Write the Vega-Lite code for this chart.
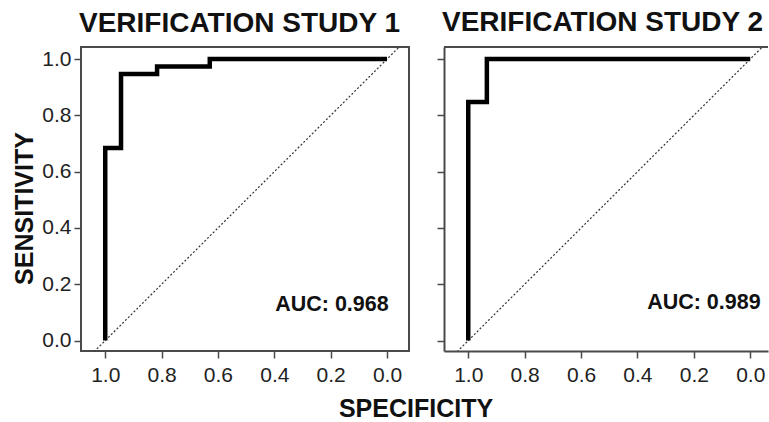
{
  "$schema": "https://vega.github.io/schema/vega-lite/v6.json",
  "padding": {"left": 11, "top": 9, "right": 0, "bottom": 0},
  "background": "white",
  "config": {
    "font": "Liberation Sans",
    "view": {"stroke": "#4a4a4a", "strokeWidth": 2},
    "axis": {
      "domain": false, "grid": false,
      "tickColor": "#4a4a4a", "tickWidth": 1.5, "tickSize": 7,
      "labelFont": "Liberation Sans", "labelFontSize": 21, "labelColor": "#222222",
      "labelFlush": false, "labelOverlap": false,
      "titleFont": "Liberation Sans", "titleFontWeight": "bold", "titleColor": "#111111"
    },
    "axisX": {"labelPadding": 6},
    "axisY": {"labelPadding": 3},
    "title": {"font": "Liberation Sans", "fontSize": 28, "fontWeight": "bold", "color": "#111111", "anchor": "start", "frame": "group", "baseline": "alphabetic", "offset": 9, "dx": -2}
  },
  "datasets": {
    "roc1": [
      {"step": 1, "spec": 1.0, "sens": 0.0},
      {"step": 2, "spec": 1.0, "sens": 0.684},
      {"step": 3, "spec": 0.944, "sens": 0.684},
      {"step": 4, "spec": 0.944, "sens": 0.947},
      {"step": 5, "spec": 0.816, "sens": 0.947},
      {"step": 6, "spec": 0.816, "sens": 0.974},
      {"step": 7, "spec": 0.629, "sens": 0.974},
      {"step": 8, "spec": 0.629, "sens": 1.0},
      {"step": 9, "spec": 0.0, "sens": 1.0}
    ],
    "roc2": [
      {"step": 1, "spec": 1.0, "sens": 0.0},
      {"step": 2, "spec": 1.0, "sens": 0.848},
      {"step": 3, "spec": 0.934, "sens": 0.848},
      {"step": 4, "spec": 0.934, "sens": 1.0},
      {"step": 5, "spec": 0.0, "sens": 1.0}
    ],
    "auc1": [{"label": "AUC: 0.968"}],
    "auc2": [{"label": "AUC: 0.989"}]
  },
  "bounds": "flush",
  "spacing": 35,
  "hconcat": [
    {
      "width": 328, "height": 304,
      "title": {"text": "VERIFICATION STUDY 1"},
      "data": {"name": "auc1"},
      "layer": [
        {
          "mark": {"type": "rule", "strokeDash": [2, 2], "strokeWidth": 1.2, "color": "#333333", "clip": true},
          "encoding": {
            "x": {"datum": 1.12, "type": "quantitative"},
            "y": {"datum": -0.12, "type": "quantitative"},
            "x2": {"datum": -0.12},
            "y2": {"datum": 1.12}
          }
        },
        {
          "data": {"name": "roc1"},
          "mark": {"type": "line", "color": "black", "strokeWidth": 4.5, "strokeCap": "butt", "strokeJoin": "miter"},
          "encoding": {
            "x": {"field": "spec", "type": "quantitative",
              "scale": {"domain": [-0.078, 1.086], "reverse": true, "nice": false, "zero": false},
              "axis": {"values": [0, 0.2, 0.4, 0.6, 0.8, 1.0], "format": ".1f", "title": "SPECIFICITY",
                "titleFontSize": 25, "titleX": 334.5, "titleY": 65, "titleBaseline": "alphabetic", "titleAlign": "center"}},
            "y": {"field": "sens", "type": "quantitative",
              "scale": {"domain": [-0.037, 1.043], "nice": false, "zero": false},
              "axis": {"values": [0, 0.2, 0.4, 0.6, 0.8, 1.0], "format": ".1f", "title": "SENSITIVITY",
                "titleFontSize": 25, "titleX": -49, "titleY": 161, "titleBaseline": "alphabetic", "titleAlign": "center", "titleAngle": -90}},
            "order": {"field": "step", "type": "quantitative"}
          }
        },
        {
          "mark": {"type": "text", "align": "right", "baseline": "alphabetic", "fontSize": 21.5, "fontWeight": "bold", "color": "#111111", "font": "Liberation Sans"},
          "encoding": {
            "x": {"datum": -0.006, "type": "quantitative"},
            "y": {"datum": 0.105, "type": "quantitative"},
            "text": {"field": "label"}
          }
        }
      ]
    },
    {
      "width": 324, "height": 304,
      "view": {"stroke": null},
      "title": {"text": "VERIFICATION STUDY 2"},
      "data": {"name": "auc2"},
      "layer": [
        {
          "mark": {"type": "rule", "strokeDash": [2, 2], "strokeWidth": 1.2, "color": "#333333", "clip": true},
          "encoding": {
            "x": {"datum": 1.12, "type": "quantitative"},
            "y": {"datum": -0.12, "type": "quantitative"},
            "x2": {"datum": -0.12},
            "y2": {"datum": 1.12}
          }
        },
        {
          "mark": {"type": "rule", "strokeWidth": 2, "color": "#4a4a4a"},
          "encoding": {
            "y": {"datum": 1.043, "type": "quantitative"}
          }
        },
        {
          "data": {"name": "roc2"},
          "mark": {"type": "line", "color": "black", "strokeWidth": 4.5, "strokeCap": "butt", "strokeJoin": "miter"},
          "encoding": {
            "x": {"field": "spec", "type": "quantitative",
              "scale": {"domain": [-0.063, 1.086], "reverse": true, "nice": false, "zero": false},
              "axis": {"values": [0, 0.2, 0.4, 0.6, 0.8, 1.0], "format": ".1f", "title": null,
                "domain": true, "domainColor": "#4a4a4a", "domainWidth": 2}},
            "y": {"field": "sens", "type": "quantitative",
              "scale": {"domain": [-0.037, 1.043], "nice": false, "zero": false},
              "axis": {"values": [0, 0.2, 0.4, 0.6, 0.8, 1.0], "labels": false, "title": null,
                "domain": true, "domainColor": "#4a4a4a", "domainWidth": 2}},
            "order": {"field": "step", "type": "quantitative"}
          }
        },
        {
          "mark": {"type": "text", "align": "right", "baseline": "alphabetic", "fontSize": 21.5, "fontWeight": "bold", "color": "#111111", "font": "Liberation Sans"},
          "encoding": {
            "x": {"datum": -0.037, "type": "quantitative"},
            "y": {"datum": 0.112, "type": "quantitative"},
            "text": {"field": "label"}
          }
        }
      ]
    }
  ]
}
